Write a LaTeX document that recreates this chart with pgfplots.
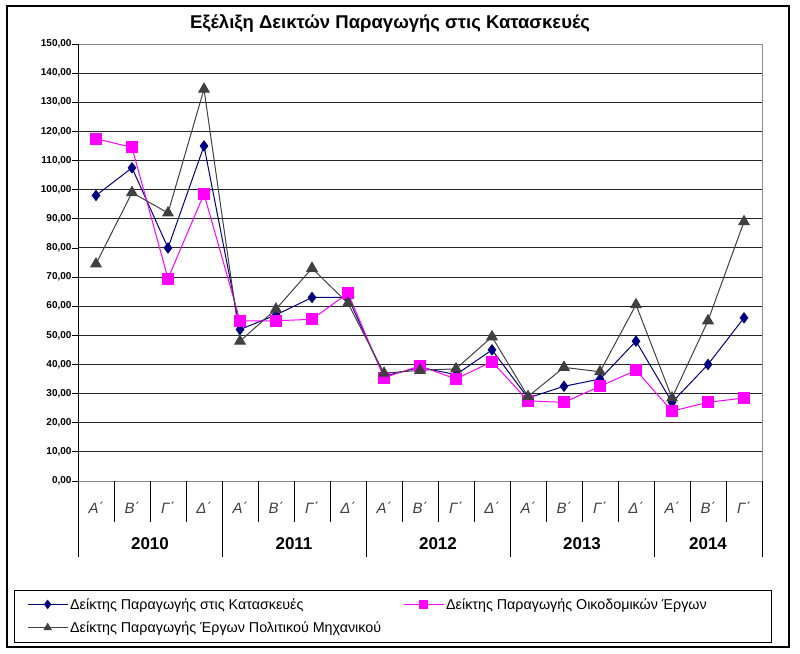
\documentclass[border=0pt]{standalone}
\usepackage{fontspec}
\setmainfont{Liberation Sans}
\usepackage{pgfplots}
\pgfplotsset{compat=1.18}
\usepackage{pgfplotstable}

\definecolor{cnavy}{RGB}{0,0,128}
\definecolor{cmag}{RGB}{255,0,255}
\definecolor{cgray}{RGB}{64,64,64}

% x = quarter index (centre), s1 = Κατασκευές, s2 = Οικοδομικά, s3 = Πολ. Μηχανικού
\pgfplotstableread{
x    s1    s2    s3
0.5  98    117.5 74.5
1.5  107.5 114.5 99
2.5  80    69.5  92
3.5  115   98.5  134.5
4.5  52    55    48
5.5  57    55    59
6.5  63    55.5  73
7.5  63    64.5  61
8.5  36    35.5  37
9.5  39    39.5  38
10.5 36.5  35    38.5
11.5 45    41    49.5
12.5 28.5  27.5  29
13.5 32.5  27    39
14.5 35    32.5  37.5
15.5 48    38    60.5
16.5 27    24    28.5
17.5 40    27    55
18.5 56    28.5  89
}\datatable

\begin{document}
\begin{tikzpicture}[x=1pt,y=1pt]
\useasboundingbox (0,0) rectangle (800,653);
% outer frame and legend box
\draw[black, line width=1.6pt] (7,6) rectangle (789,647);
\draw[black, line width=1pt] (14,11) rectangle (771,62);
\node[font=\fontsize{18.5}{20}\selectfont\bfseries] at (390,630) {Εξέλιξη Δεικτών Παραγωγής στις Κατασκευές};

\begin{axis}[
    at={(78pt,172pt)}, anchor=south west,
    scale only axis,
    width=684pt, height=437pt,
    xmin=0, xmax=19,
    ymin=0, ymax=150,
    ytick={0,10,...,150},
    tick align=outside,
    tick pos=left,
    major tick length=6pt,
    ymajorgrids=true,
    major grid style={black!85, line width=0.9pt},
    axis line style={black!45, line width=0.6pt},
    tick style={black, line width=0.8pt},
    /pgf/number format/.cd, fixed, fixed zerofill, precision=2, use comma, assume math mode=true,
    /pgfplots/.cd,
    yticklabel style={font=\fontsize{10}{11}\selectfont\bfseries, xshift=3pt},
    xtick={0.5,1.5,...,18.5},
    xticklabels={Α΄,Β΄,Γ΄,Δ΄,Α΄,Β΄,Γ΄,Δ΄,Α΄,Β΄,Γ΄,Δ΄,Α΄,Β΄,Γ΄,Δ΄,Α΄,Β΄,Γ΄},
    xtick style={draw=none},
    xticklabel style={font=\fontsize{15}{17}\selectfont\itshape, anchor=center, yshift=-21pt, text=black!75},
    clip=false,
    legend columns=2,
    legend style={draw=none, fill=none, inner sep=0pt,
        at={(axis description cs:-0.0746,-0.309)}, anchor=west,
        nodes={inner sep=2pt},
        font=\fontsize{14.3}{16}\selectfont,
        row sep=7pt},
    legend cell align=left,
    legend image code/.code={\draw[mark repeat=2,mark phase=2,#1,mark size=4pt] plot coordinates {(0pt,0pt) (20pt,0pt) (40pt,0pt)};},
]
\draw[black, line width=0.9pt] (rel axis cs:0,0) -- (rel axis cs:0,1);
% quarter separators and year separators below the axis
\pgfplotsinvokeforeach{1,2,3,5,6,7,9,10,11,13,14,15,17,18}{
    \draw[black, line width=0.9pt] (axis cs:#1,0) -- ++(0pt,-41pt);
}
\pgfplotsinvokeforeach{0,4,8,12,16,19}{
    \draw[black, line width=0.9pt] (axis cs:#1,0) -- ++(0pt,-76pt);
}
\addplot[color=cnavy, line width=1pt, mark=diamond*, mark size=5pt, mark options={fill=cnavy}] table[x=x, y=s1] {\datatable};
\addplot[color=cmag, line width=1pt, mark=square*, mark size=5.5pt, mark options={fill=cmag}] table[x=x, y=s2] {\datatable};
\addplot[color=cgray, line width=1pt, mark=triangle*, mark size=6pt, mark options={fill=cgray}] table[x=x, y=s3] {\datatable};
\legend{\makebox[331pt][l]{Δείκτης Παραγωγής στις Κατασκευές}, Δείκτης Παραγωγής Οικοδομικών Έργων, Δείκτης Παραγωγής Έργων Πολιτικού Μηχανικού}
\node[font=\fontsize{17}{19}\selectfont\bfseries] at (axis cs:2,0) [yshift=-63pt] {2010};
\node[font=\fontsize{17}{19}\selectfont\bfseries] at (axis cs:6,0) [yshift=-63pt] {2011};
\node[font=\fontsize{17}{19}\selectfont\bfseries] at (axis cs:10,0) [yshift=-63pt] {2012};
\node[font=\fontsize{17}{19}\selectfont\bfseries] at (axis cs:14,0) [yshift=-63pt] {2013};
\node[font=\fontsize{17}{19}\selectfont\bfseries] at (axis cs:17.5,0) [yshift=-63pt] {2014};
\end{axis}
\end{tikzpicture}
\end{document}
